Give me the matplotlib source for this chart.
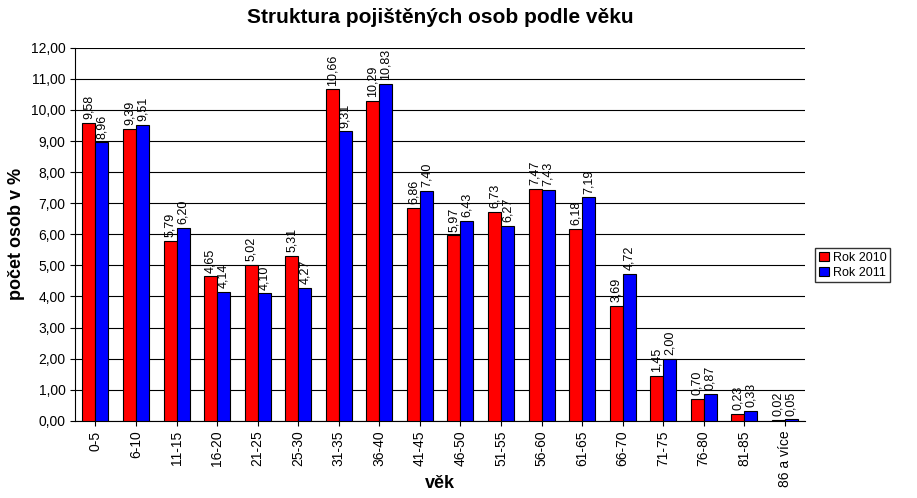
import numpy as np
import matplotlib.pyplot as plt

plt.rcParams['font.family'] = 'Liberation Sans'

categories = ['0-5', '6-10', '11-15', '16-20', '21-25', '25-30', '31-35', '36-40', '41-45',
              '46-50', '51-55', '56-60', '61-65', '66-70', '71-75', '76-80', '81-85', '86 a více']
rok_2010 = [9.58, 9.39, 5.79, 4.65, 5.02, 5.31, 10.66, 10.29, 6.86, 5.97, 6.73, 7.47, 6.18, 3.69, 1.45, 0.70, 0.23, 0.02]
rok_2011 = [8.96, 9.51, 6.20, 4.14, 4.10, 4.27, 9.31, 10.83, 7.40, 6.43, 6.27, 7.43, 7.19, 4.72, 2.00, 0.87, 0.33, 0.05]

fig = plt.figure(figsize=(9.17, 4.98), dpi=100)
ax = fig.add_axes([0.082, 0.155, 0.796, 0.749])

x = np.arange(len(categories))
w = 0.32
b1 = ax.bar(x - w / 2, rok_2010, w, color='#ff0000', edgecolor='black', linewidth=0.8, label='Rok 2010', zorder=3)
b2 = ax.bar(x + w / 2, rok_2011, w, color='#0000ff', edgecolor='black', linewidth=0.8, label='Rok 2011', zorder=3)

for bars in (b1, b2):
    for r in bars:
        v = r.get_height()
        ax.text(r.get_x() + r.get_width() / 2, v + 0.12, f'{v:.2f}'.replace('.', ','),
                rotation=90, ha='center', va='bottom', fontsize=9)

ax.set_xlim(-0.5, len(categories) - 0.5)
ax.set_ylim(0, 12)
ax.set_yticks(np.arange(0, 12.01, 1))
ax.set_yticklabels([f'{v:.2f}'.replace('.', ',') for v in np.arange(0, 12.01, 1)], fontsize=10)
ax.set_xticks(x)
ax.set_xticklabels(categories, rotation=90, fontsize=10)
ax.yaxis.grid(True, color='black', linewidth=0.8, zorder=0)
ax.set_axisbelow(True)
for s in ('top', 'right'):
    ax.spines[s].set_visible(False)

fig.text(0.48, 0.012, 'věk', fontsize=13, fontweight='bold', ha='center', va='bottom')
ax.set_ylabel('počet osob v %', fontsize=13, fontweight='bold')
ax.set_title('Struktura pojištěných osob podle věku', fontsize=15, fontweight='bold', pad=18)

fig.legend(loc='center left', bbox_to_anchor=(0.882, 0.467), fontsize=9, frameon=True,
           fancybox=False, edgecolor='black', handlelength=0.8, handletextpad=0.3,
           borderpad=0.3, labelspacing=0.2)

fig.savefig('out.png', dpi=100)
